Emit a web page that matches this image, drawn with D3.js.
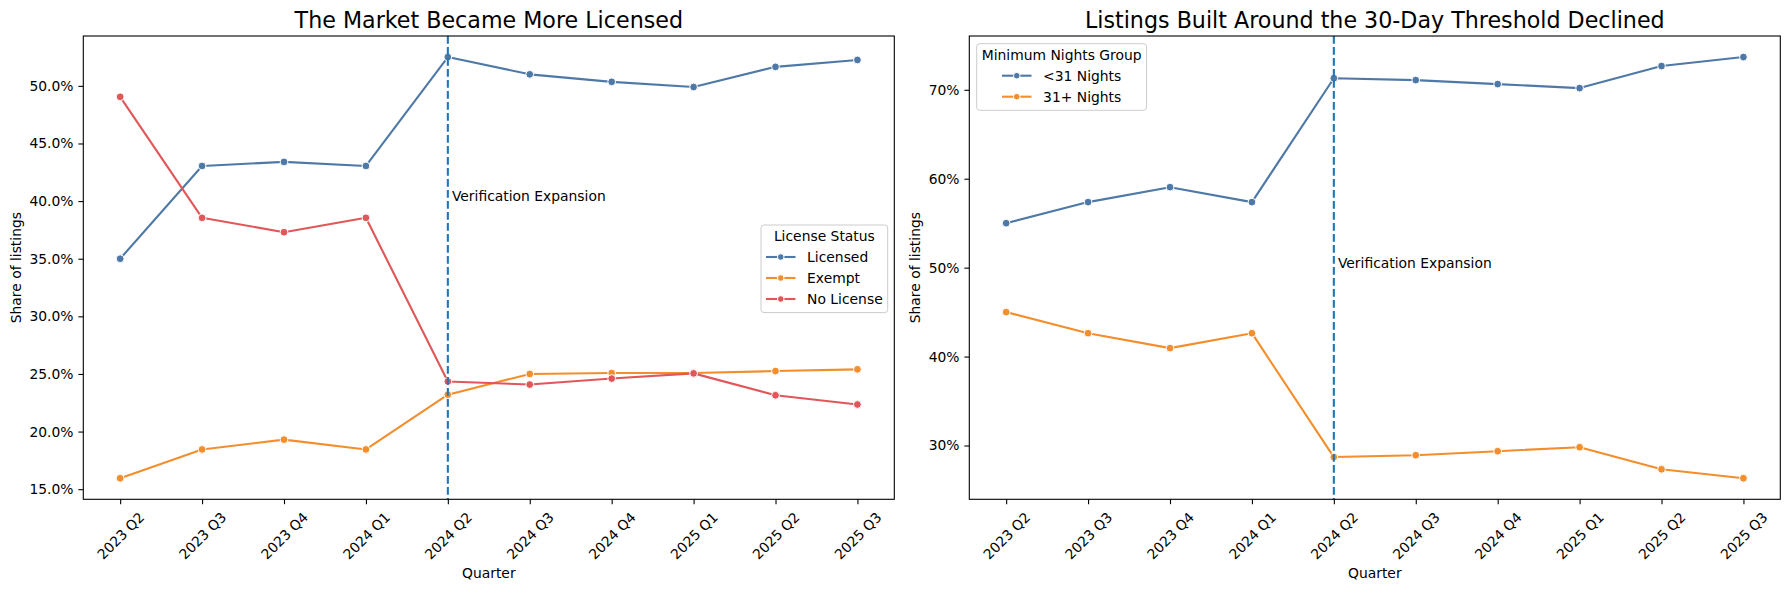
<!DOCTYPE html>
<html>
<head>
<meta charset="utf-8">
<script src="https://cdn.jsdelivr.net/npm/d3@7"></script>
<style>
    body { margin: 0; background: #fff; }
    svg { display: block; }
    text { font-family: "DejaVu Sans", sans-serif; fill: #000; }
</style>
</head>
<body>
<svg id="chart" width="1790" height="590"></svg>
<script>
// ---- data (percent of listings) ----
const quarters = ["2023 Q2", "2023 Q3", "2023 Q4", "2024 Q1", "2024 Q2",
    "2024 Q3", "2024 Q4", "2025 Q1", "2025 Q2", "2025 Q3"];
const policyQuarter = "2024 Q2";

const licensed  = [35.0, 43.05, 43.4, 43.05, 52.5, 51.0, 50.35, 49.9, 51.65, 52.25];
const exempt    = [15.95, 18.45, 19.3, 18.45, 23.2, 25.0, 25.08, 25.08, 25.25, 25.4];
const noLicense = [49.05, 38.55, 37.3, 38.55, 24.35, 24.08, 24.6, 25.05, 23.15, 22.35];

const under31 = [55.0, 57.37, 59.05, 57.37, 71.3, 71.09, 70.64, 70.19, 72.67, 73.68];
const over31  = [45.0, 42.63, 40.95, 42.63, 28.7, 28.91, 29.36, 29.81, 27.33, 26.32];

const leftTicks  = [15, 20, 25, 30, 35, 40, 45, 50];
const rightTicks = [30, 40, 50, 60, 70];

const kBlue = "#4e79a7", kOrange = "#f28e2b", kRed = "#e15759", kGuide = "#1f77b4";
const kFont = 13.89;

const paper = d3.select("#chart");

drawPanel({
    left: 83.3, right: 894.3, top: 36, bottom: 499.3,
    title: "The Market Became More Licensed",
    series: [
        {name: "Licensed", values: licensed, color: kBlue},
        {name: "Exempt", values: exempt, color: kOrange},
        {name: "No License", values: noLicense, color: kRed}
    ],
    ticks: leftTicks,
    tickFormat: d => d.toFixed(1) + "%",
    annotY: 40,
    legendTitle: "License Status",
    legendAt: {right: 887.7, top: 225}
});

drawPanel({
    left: 969.3, right: 1780.3, top: 36, bottom: 499.3,
    title: "Listings Built Around the 30-Day Threshold Declined",
    series: [
        {name: "<31 Nights", values: under31, color: kBlue},
        {name: "31+ Nights", values: over31, color: kOrange}
    ],
    ticks: rightTicks,
    tickFormat: d => d.toFixed(0) + "%",
    annotY: 50,
    legendTitle: "Minimum Nights Group",
    legendAt: {left: 976.7, top: 43.7}
});

function drawPanel(cfg) {
    const g = paper.append("g").attr("class", "panel");

    const x = d3.scalePoint()
        .domain(quarters)
        .range([cfg.left, cfg.right])
        .padding(0.45);

    // matplotlib style 5% margins around the data
    const all = cfg.series.flatMap(s => s.values);
    const [lo, hi] = d3.extent(all);
    const pad = (hi - lo) * 0.05;
    const y = d3.scaleLinear()
        .domain([lo - pad, hi + pad])
        .range([cfg.bottom, cfg.top]);

    // x axis
    const xAxis = g.append("g")
        .attr("transform", `translate(0,${cfg.bottom})`)
        .call(d3.axisBottom(x).tickSize(4.9).tickSizeOuter(0));
    xAxis.attr("font-family", "DejaVu Sans").attr("font-size", kFont);
    xAxis.select(".domain").remove();
    xAxis.selectAll("line").attr("stroke", "#000").attr("stroke-width", 1.1);
    xAxis.selectAll("text")
        .attr("y", null)
        .attr("dy", null)
        .attr("text-anchor", "middle")
        .attr("dominant-baseline", "central")
        .attr("transform", function () {
            const w = this.getComputedTextLength();
            const off = 9.7 + (w + 16.2) / (2 * Math.SQRT2);
            return `translate(0,${off}) rotate(-45)`;
        });

    // y axis
    const yAxis = g.append("g")
        .attr("transform", `translate(${cfg.left},0)`)
        .call(d3.axisLeft(y).tickValues(cfg.ticks).tickFormat(cfg.tickFormat)
            .tickSize(4.9).tickPadding(4.9).tickSizeOuter(0));
    yAxis.attr("font-family", "DejaVu Sans").attr("font-size", kFont);
    yAxis.select(".domain").remove();
    yAxis.selectAll("line").attr("stroke", "#000").attr("stroke-width", 1.1);

    let maxW = 0;
    yAxis.selectAll("text").each(function () {
        maxW = Math.max(maxW, this.getComputedTextLength());
    });

    // axis labels
    g.append("text")
        .attr("x", (cfg.left + cfg.right) / 2)
        .attr("y", cfg.bottom + 73.5)
        .attr("text-anchor", "middle")
        .attr("dominant-baseline", "central")
        .attr("font-size", kFont)
        .text("Quarter");

    const yLabX = cfg.left - 9.7 - maxW - 5.6 - 8.1;
    const midY = (cfg.top + cfg.bottom) / 2;
    g.append("text")
        .attr("transform", `translate(${yLabX},${midY}) rotate(-90)`)
        .attr("text-anchor", "middle")
        .attr("dominant-baseline", "central")
        .attr("font-size", kFont)
        .text("Share of listings");

    // title
    g.append("text")
        .attr("x", (cfg.left + cfg.right) / 2)
        .attr("y", cfg.top - 8.3)
        .attr("text-anchor", "middle")
        .attr("font-size", 22.2)
        .text(cfg.title);

    // series
    const line = d3.line()
        .x((d, i) => x(quarters[i]))
        .y(d => y(d));

    const seriesG = g.selectAll(".series")
        .data(cfg.series)
        .join("g")
        .attr("class", "series");

    seriesG.append("path")
        .attr("d", s => line(s.values))
        .attr("fill", "none")
        .attr("stroke", s => s.color)
        .attr("stroke-width", 2.1)
        .attr("stroke-linejoin", "round")
        .attr("stroke-linecap", "round");

    seriesG.selectAll("circle")
        .data(s => s.values.map((v, i) => ({v, i, color: s.color})))
        .join("circle")
        .attr("cx", d => x(quarters[d.i]))
        .attr("cy", d => y(d.v))
        .attr("r", 3.9)
        .attr("fill", d => d.color)
        .attr("stroke", "#fff")
        .attr("stroke-width", 1);

    // policy guide line + note
    const px = x(policyQuarter);
    g.append("line")
        .attr("x1", px).attr("x2", px)
        .attr("y1", cfg.top).attr("y2", cfg.bottom)
        .attr("stroke", kGuide)
        .attr("stroke-width", 2.1)
        .attr("stroke-dasharray", "7.7,3.3");

    g.append("text")
        .attr("x", px + 0.05 * x.step())
        .attr("y", y(cfg.annotY))
        .attr("font-size", kFont)
        .text("Verification Expansion");

    // frame
    g.append("rect")
        .attr("x", cfg.left).attr("y", cfg.top)
        .attr("width", cfg.right - cfg.left)
        .attr("height", cfg.bottom - cfg.top)
        .attr("fill", "none")
        .attr("stroke", "#000")
        .attr("stroke-width", 1.1);

    drawLegend(g, cfg);
}

function drawLegend(g, cfg) {
    const lg = g.append("g").attr("class", "legend");
    const box = lg.append("rect");

    const title = lg.append("text")
        .attr("font-size", kFont)
        .attr("text-anchor", "middle")
        .attr("dominant-baseline", "central")
        .text(cfg.legendTitle);
    const titleW = title.node().getComputedTextLength();

    const labels = lg.selectAll(".legendLabel")
        .data(cfg.series)
        .join("text")
        .attr("class", "legendLabel")
        .attr("font-size", kFont)
        .attr("dominant-baseline", "central")
        .text(s => s.name);

    let textW = 0;
    labels.each(function () { textW = Math.max(textW, this.getComputedTextLength()); });

    const handleW = 29.5, handleGap = 11.6, sidePad = 5;
    const entriesW = handleW + handleGap + textW;
    const inner = Math.max(titleW, entriesW);
    const boxW = inner + 2 * sidePad;
    const boxH = 32 + 21 * (cfg.series.length - 1) + 13.6;

    const bx = cfg.legendAt.left !== undefined ? cfg.legendAt.left : cfg.legendAt.right - boxW;
    const by = cfg.legendAt.top;
    const ex = bx + sidePad + (inner - entriesW) / 2;

    box.attr("x", bx).attr("y", by)
        .attr("width", boxW).attr("height", boxH)
        .attr("rx", 3)
        .attr("fill", "#fff").attr("fill-opacity", 0.8)
        .attr("stroke", "#cccccc").attr("stroke-width", 1);

    title.attr("x", bx + boxW / 2).attr("y", by + 11);

    const rowY = i => by + 32 + 21 * i;

    labels.attr("x", ex + handleW + handleGap)
        .attr("y", (s, i) => rowY(i));

    lg.selectAll(".legendLine")
        .data(cfg.series)
        .join("line")
        .attr("class", "legendLine")
        .attr("x1", ex).attr("x2", ex + handleW)
        .attr("y1", (s, i) => rowY(i)).attr("y2", (s, i) => rowY(i))
        .attr("stroke", s => s.color)
        .attr("stroke-width", 2.1);

    lg.selectAll(".legendDot")
        .data(cfg.series)
        .join("circle")
        .attr("class", "legendDot")
        .attr("cx", ex + handleW / 2)
        .attr("cy", (s, i) => rowY(i))
        .attr("r", 3.3)
        .attr("fill", s => s.color)
        .attr("stroke", "#fff")
        .attr("stroke-width", 1);
}
</script>
</body>
</html>
